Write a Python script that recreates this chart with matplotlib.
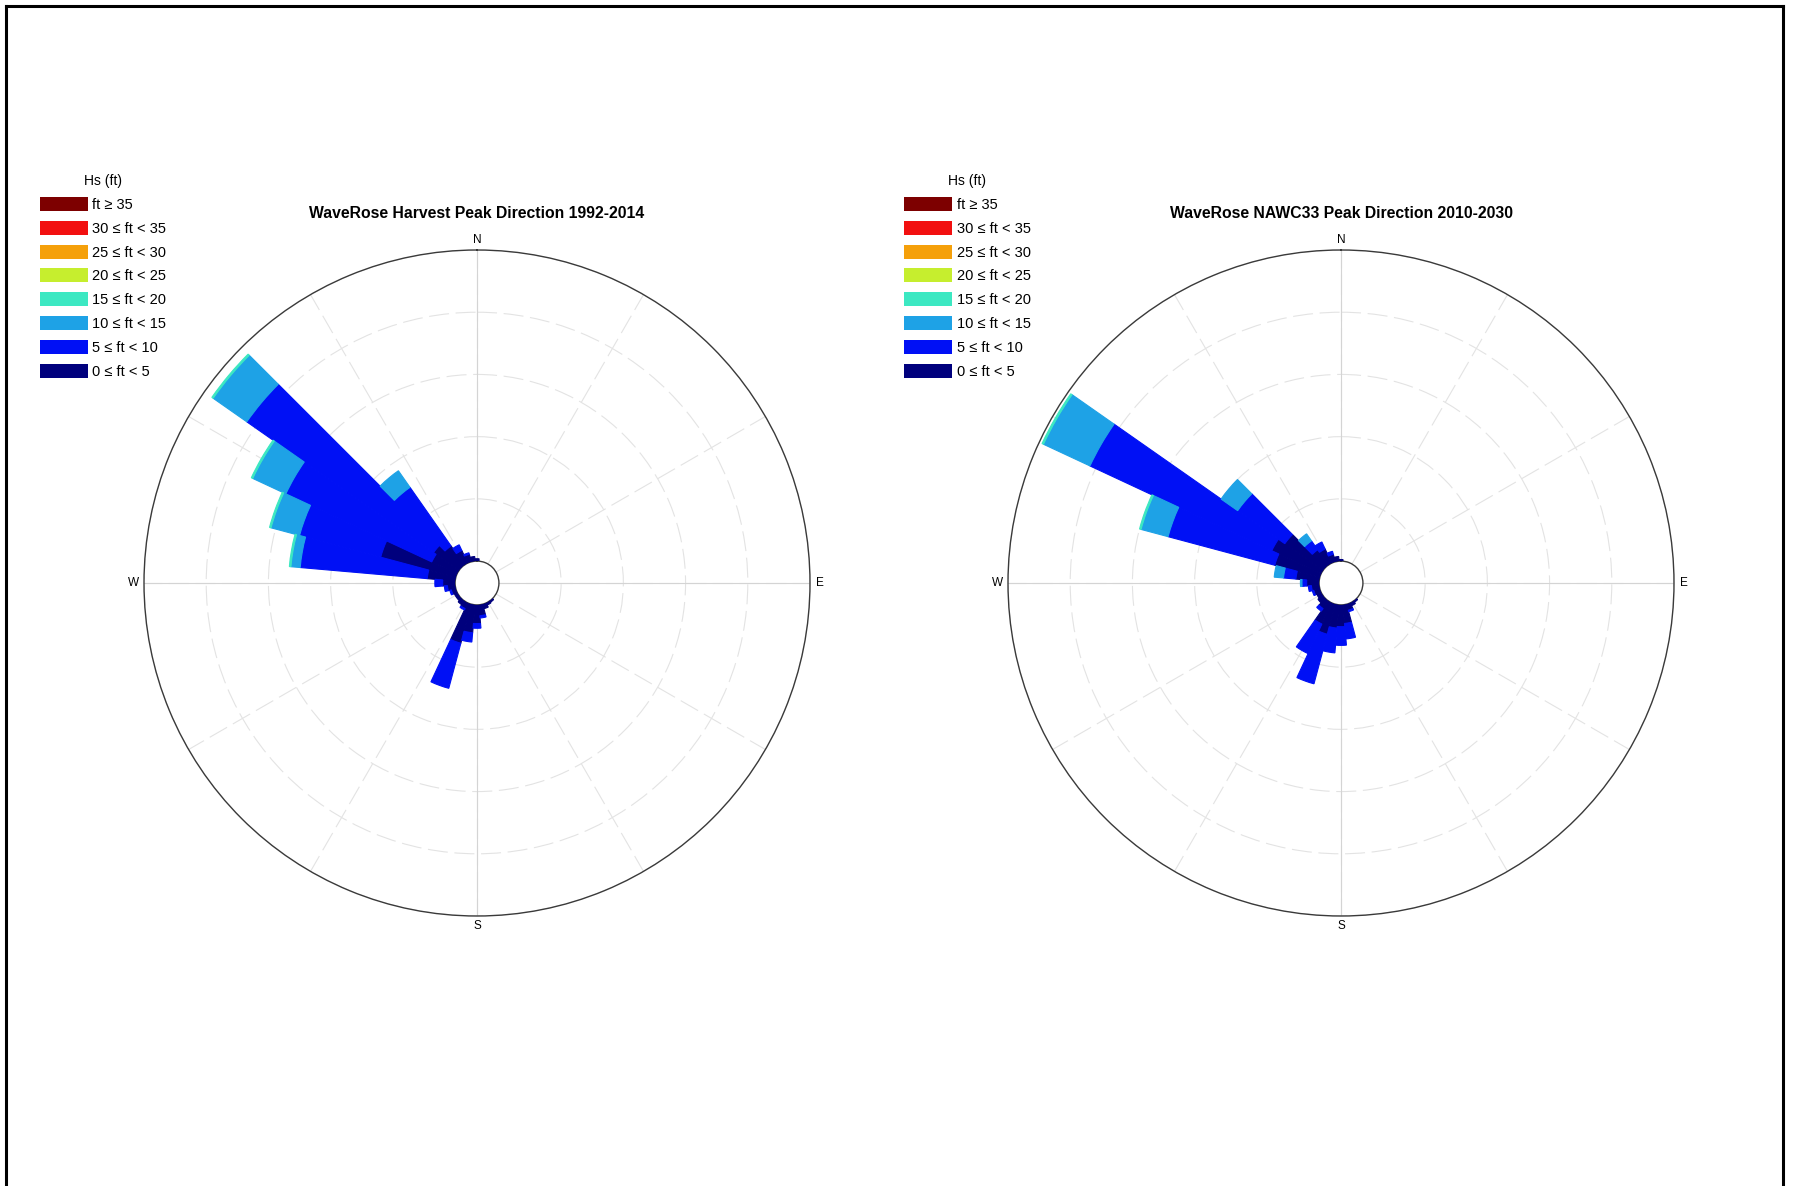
import numpy as np
import matplotlib.pyplot as plt
from matplotlib.patches import Patch
from matplotlib.lines import Line2D

plt.rcParams['font.family'] = ['Liberation Sans', 'DejaVu Sans']

# 10 degree direction bins, clockwise from north
directions = np.arange(0, 360, 10)

class_labels = ['0 \u2264 ft < 5', '5 \u2264 ft < 10', '10 \u2264 ft < 15', '15 \u2264 ft < 20',
                '20 \u2264 ft < 25', '25 \u2264 ft < 30', '30 \u2264 ft < 35', 'ft \u2265 35']
class_colors = ['#00007d', '#0010f5', '#1ea2e6', '#3ce8c2',
                '#c6ee2e', '#f5a00a', '#f21010', '#7d0000']

ring_levels = [4, 8, 12, 16, 20]

# Harvest 1992-2014, frequency (%) per bin for each Hs class
#                 0    10   20   30   40   50   60   70   80   90  100  110  120  130  140   150  160  170  180  190  200  210  220  230  240  250  260  270  280  290  300    310    320  330  340  350
harvest_0_5   = [0.15, 0,   0,   0,   0,   0,   0,   0,   0,   0,   0,   0,   0,   0,  0.1, 0.15, 0.3, 0.7, 1.2, 1.8, 2.6, 0.4, 0.3, 0.2, 0.2, 0.3, 0.5, 0.8, 1.8, 5.0, 1.8,   2.0,   1.5, 0.9, 0.5, 0.3]
harvest_5_10  = [0,    0,   0,   0,   0,   0,   0,   0,   0,   0,   0,   0,   0,   0,  0,   0,    0,   0.15, 0.3, 0.6, 3.0, 0.1, 0,   0,   0,   0.1, 0.2, 0.5, 8.2, 5.4, 10.35, 14.66, 4.6, 0.4, 0.1, 0]
harvest_10_15 = [0,    0,   0,   0,   0,   0,   0,   0,   0,   0,   0,   0,   0,   0,  0,   0,    0,   0,   0,   0,   0,   0,   0,   0,   0,   0,   0,   0,   0.6, 1.9, 2.35,  2.64,  1.3, 0,   0,   0]
harvest_15_20 = [0,    0,   0,   0,   0,   0,   0,   0,   0,   0,   0,   0,   0,   0,  0,   0,    0,   0,   0,   0,   0,   0,   0,   0,   0,   0,   0,   0,   0.1, 0.1, 0.1,   0.1,   0,   0,   0,   0]

# NAWC33 2010-2030
#                 0    10   20   30   40   50   60   70   80   90  100  110  120  130  140  150  160  170  180  190  200  210  220  230  240  250  260  270  280  290  300   310  320   330  340  350
nawc_0_5      = [0.1,  0,   0,   0,   0,   0,   0,   0,   0,   0,   0,   0,   0,   0,  0.1, 0.2, 0.4, 1.2, 1.4, 1.5, 2.0, 1.5, 0.6, 0.4, 0.3, 0.4, 0.5, 0.8, 1.5, 3.0, 3.5,  3.0, 1.2,  1.0, 0.5, 0.3]
nawc_5_10     = [0,    0,   0,   0,   0,   0,   0,   0,   0,   0,   0,   0,   0,   0,  0,   0,   0.1, 1.0, 1.2, 1.6, 3.3, 2.1, 0.2, 0,   0,   0.1, 0.2, 0.3, 0.8, 7.1, 12.9, 3.7, 0.7,  0.5, 0.2, 0]
nawc_10_15    = [0,    0,   0,   0,   0,   0,   0,   0,   0,   0,   0,   0,   0,   0,  0,   0,   0,   0,   0,   0,   0,   0,   0,   0,   0,   0,   0,   0.1, 0.6, 1.8, 3.3,  1.3, 0.55, 0,   0,   0]
nawc_15_20    = [0,    0,   0,   0,   0,   0,   0,   0,   0,   0,   0,   0,   0,   0,  0,   0,   0,   0,   0,   0,   0,   0,   0,   0,   0,   0,   0,   0,   0,   0.1, 0.1,  0,   0,    0,   0,   0]

W, H = 1794, 1186
R_PX = 333          # outer ring radius in pixels
HOLE = 1.41         # empty centre, in data units


def draw_rose(cx, cy, layers, title, legend_x):
    ax = fig.add_axes([(cx - R_PX) / W, (H - cy - R_PX) / H, 2 * R_PX / W, 2 * R_PX / H],
                      projection='polar')
    ax.set_theta_zero_location('N')
    ax.set_theta_direction(-1)
    ax.set_axisbelow(True)

    theta = np.deg2rad(directions)
    base = np.zeros(len(directions))
    for vals, color in zip(layers, class_colors):
        vals = np.asarray(vals, dtype=float)
        keep = vals > 0
        if keep.any():
            ax.bar(theta[keep], vals[keep], width=np.deg2rad(10), bottom=base[keep],
                   color=color, edgecolor=color, linewidth=0.8, zorder=3)
        base += vals

    ax.set_rlim(0, 20)
    ax.set_rorigin(-HOLE)
    ax.set_rticks(ring_levels)
    ax.set_yticklabels([])
    ax.set_thetagrids(np.arange(0, 360, 30),
                      labels=['N', '', '', 'E', '', '', 'S', '', '', 'W', '', ''])
    ax.tick_params(axis='x', labelsize=8.5, pad=-3)
    ax.grid(color='#e3e3e3', linewidth=0.8, linestyle=(0, (18, 6)))
    for a in (0, 90, 180, 270):
        ax.plot([np.deg2rad(a)] * 2, [0, 20], color='#d4d4d4', lw=0.8, zorder=1)
    ax.spines['polar'].set_color('#3a3a3a')
    ax.spines['polar'].set_linewidth(1.0)
    ax.spines['inner'].set_color('#3a3a3a')
    ax.spines['inner'].set_linewidth(1.0)

    fig.text(cx / W, 1 - 213 / H, title, ha='center', va='center',
             fontsize=11.3, fontweight='bold')

    handles = [Patch(facecolor=c, edgecolor='none') for c in class_colors[::-1]]
    fig.legend(handles, class_labels[::-1], title='Hs (ft)', loc='upper left',
               bbox_to_anchor=(legend_x / W, 1 - 174 / H), frameon=False,
               fontsize=10.5, title_fontsize=10, borderpad=0, borderaxespad=0,
               handlelength=3.3, handleheight=1.1, labelspacing=0.61,
               handletextpad=0.3)
    return ax


fig = plt.figure(figsize=(W / 100, H / 100), dpi=100)

draw_rose(477, 583, [harvest_0_5, harvest_5_10, harvest_10_15, harvest_15_20],
          'WaveRose Harvest Peak Direction 1992-2014', 40)
draw_rose(1341, 583, [nawc_0_5, nawc_5_10, nawc_10_15, nawc_15_20],
          'WaveRose NAWC33 Peak Direction 2010-2030', 904)

# page frame (bottom edge falls outside the image)
for xs, ys in [([6, 6], [6, H]), ([6, 1783], [6, 6]), ([1783, 1783], [6, H])]:
    fig.add_artist(Line2D([x / W for x in xs], [1 - y / H for y in ys],
                          transform=fig.transFigure, color='black', lw=2.2))

fig.savefig('out.png', dpi=100)
